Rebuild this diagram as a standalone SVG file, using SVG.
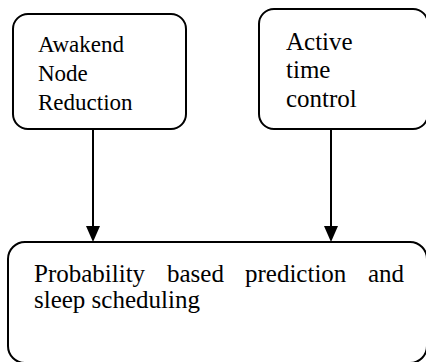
<svg xmlns="http://www.w3.org/2000/svg" width="426" height="362" viewBox="0 0 426 362">
<style>
.box{fill:#fff;stroke:#000;stroke-width:2}
.t{fill:#000}
.c{stroke:#000;stroke-width:2;fill:none}
</style>
<rect width="426" height="362" fill="#fff"/>
<g id="node-awakend">
<rect class="box" x="13" y="14" width="173" height="115" rx="15"/>
<text class="t" font-family="Liberation Serif, DejaVu Serif, serif" font-size="23"><tspan x="38" y="52">Awakend</tspan><tspan x="38" y="81">Node</tspan><tspan x="38" y="110">Reduction</tspan></text>
</g>
<g id="node-active">
<rect class="box" x="259" y="9" width="169" height="120" rx="15"/>
<text class="t" font-family="Liberation Serif, DejaVu Serif, serif" font-size="25"><tspan x="286" y="50">Active</tspan><tspan x="286" y="78">time</tspan><tspan x="286" y="107">control</tspan></text>
</g>
<g id="node-prob">
<rect class="box" x="8" y="242" width="419" height="121" rx="17"/>
<text class="t" font-family="Liberation Serif, DejaVu Serif, serif" font-size="25"><tspan x="34" y="282">Probability</tspan><tspan x="167" y="282">based</tspan><tspan x="245" y="282">prediction</tspan><tspan x="368" y="282">and</tspan><tspan x="34" y="308">sleep scheduling</tspan></text>
</g>
<g id="connectors">
<line class="c" x1="93" y1="129" x2="93" y2="228"/>
<path d="M86,226 L100,226 L93,242 Z" fill="#000"/>
<line class="c" x1="331" y1="129" x2="331" y2="228"/>
<path d="M324,226 L338,226 L331,242 Z" fill="#000"/>
</g>
</svg>
